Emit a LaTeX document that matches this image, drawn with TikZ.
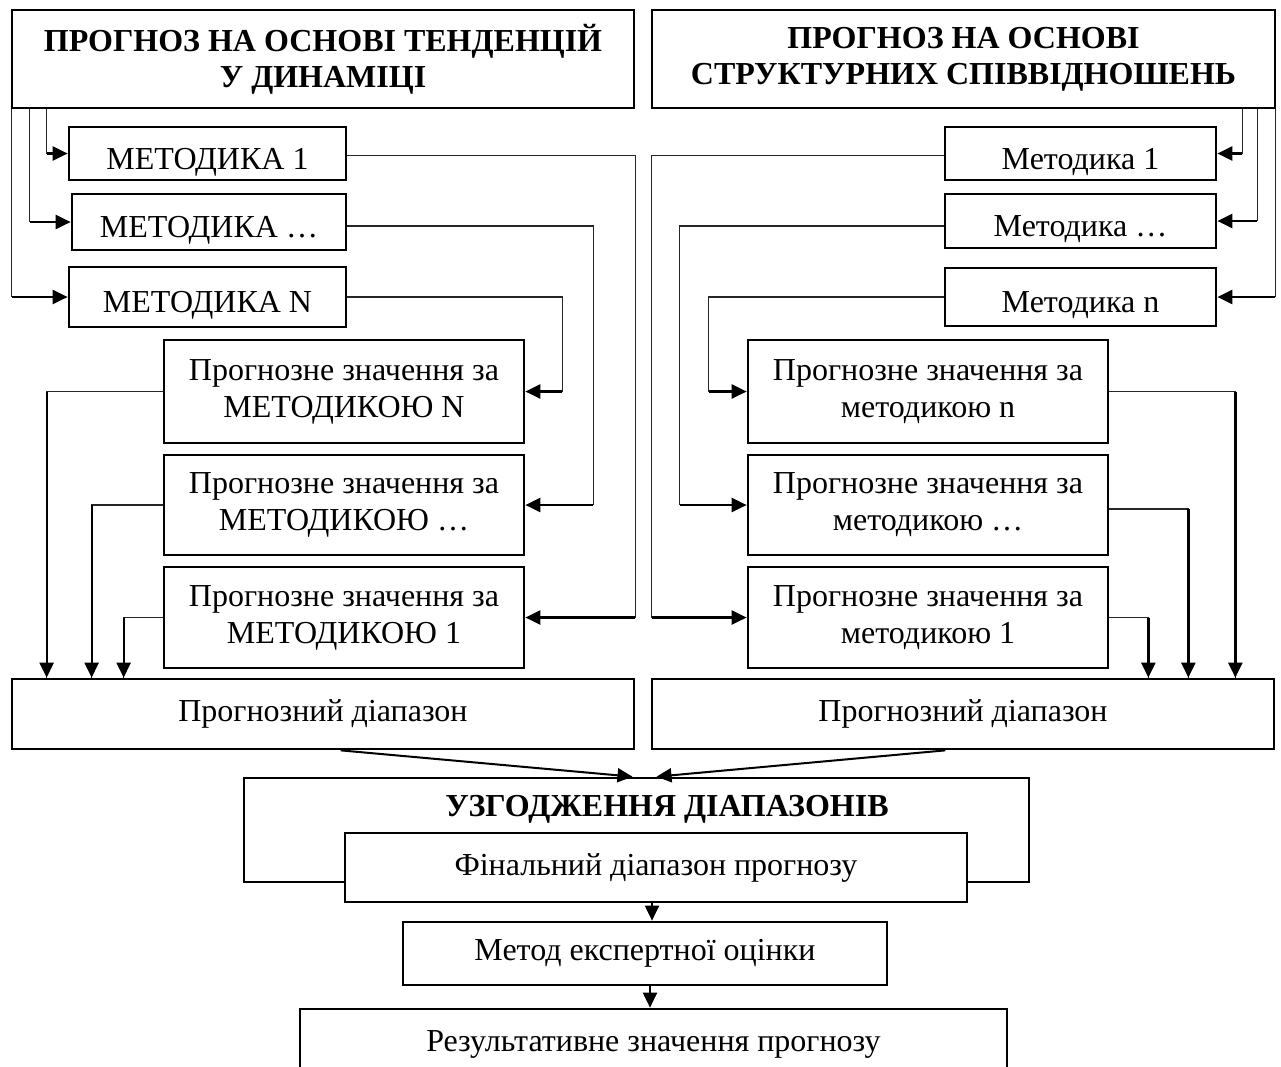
\documentclass[tikz,border=0pt]{standalone}
\usepackage{fontspec}
\setmainfont{Liberation Serif}
\usetikzlibrary{arrows.meta}
\newcommand\myfs{\fontsize{32}{37}\selectfont}
\newcommand\myfsb{\fontsize{32}{36}\selectfont\bfseries}
\begin{document}
\begin{tikzpicture}[x=1pt,y=-1pt,
  box/.style={draw, line width=2.7pt, fill=white, inner sep=0pt, align=center, font=\myfs},
  onel/.style={text height=31pt, text depth=0pt},
  conn/.style={line width=1.3pt, draw=black!85},
  arr/.style={line width=2.3pt, -{Triangle[length=15pt,width=14pt]}}]
\clip (0,0) rectangle (1281,1066);
\fill[white] (0,0) rectangle (1281,1066);

% headers
\node[box, font=\myfsb, minimum width=622pt, minimum height=98pt] (hl) at (323,59) {ПРОГНОЗ НА ОСНОВІ ТЕНДЕНЦІЙ\\У ДИНАМІЦІ};
\node[box, font=\myfsb, minimum width=623pt, minimum height=98pt] (hr) at (963.5,59) {ПРОГНОЗ НА ОСНОВІ\\СТРУКТУРНИХ СПІВВІДНОШЕНЬ};

% methods left
\node[box, onel, minimum width=277pt, minimum height=53pt] (m1) at (207.5,153.5) {МЕТОДИКА 1};
\node[box, onel, minimum width=274pt, minimum height=56pt] (m2) at (209,222) {МЕТОДИКА …};
\node[box, onel, minimum width=277pt, minimum height=60pt] (m3) at (207.5,297) {МЕТОДИКА N};
% methods right
\node[box, onel, minimum width=271pt, minimum height=53pt] (r1) at (1080.5,153.5) {Методика 1};
\node[box, onel, minimum width=271pt, minimum height=54pt] (r2) at (1080.5,221) {Методика …};
\node[box, onel, minimum width=271pt, minimum height=58pt] (r3) at (1080.5,297) {Методика n};

% forecast values left
\node[box, minimum width=360pt, minimum height=103pt] (pN) at (344,391.5) {Прогнозне значення за\\МЕТОДИКОЮ N};
\node[box, minimum width=360pt, minimum height=100pt] (p2) at (344,505) {Прогнозне значення за\\МЕТОДИКОЮ …};
\node[box, minimum width=360pt, minimum height=101pt] (p1) at (344,617.5) {Прогнозне значення за\\МЕТОДИКОЮ 1};
% forecast values right
\node[box, minimum width=360pt, minimum height=103pt] (qN) at (928,391.5) {Прогнозне значення за\\методикою n};
\node[box, minimum width=360pt, minimum height=100pt] (q2) at (928,505) {Прогнозне значення за\\методикою …};
\node[box, minimum width=360pt, minimum height=101pt] (q1) at (928,617.5) {Прогнозне значення за\\методикою 1};

% ranges
\node[box, minimum width=622pt, minimum height=70pt] (rangeL) at (323,714) {Прогнозний діапазон};
\node[box, minimum width=622pt, minimum height=70pt] (rangeR) at (963,714) {Прогнозний діапазон};

% agreement
\node[box, minimum width=785pt, minimum height=104pt] (uzg) at (636.5,830) {};
\node[font=\myfsb, inner sep=0pt] (uzgt) at (667,809) {УЗГОДЖЕННЯ ДІАПАЗОНІВ};
\node[box, minimum width=622pt, minimum height=69pt] (fin) at (656,867.5) {Фінальний діапазон прогнозу};
\node[box, minimum width=484pt, minimum height=63pt] (met) at (645,953.5) {Метод експертної оцінки};
\node[box, minimum width=707pt, minimum height=71pt] (res) at (653.5,1044.5) {Результативне значення прогнозу};

% feed lines left
\coordinate (f1) at ([xshift=36pt]hl.south west);
\coordinate (f2) at ([xshift=19pt]hl.south west);
\coordinate (f3) at ([xshift=1pt]hl.south west);
\draw[conn] (f1) -- (f1 |- m1.west);
\draw[arr] (f1 |- m1.west) -- (m1.west);
\draw[conn] (f2) -- (f2 |- m2.west);
\draw[arr] (f2 |- m2.west) -- (m2.west);
\draw[conn] (f3) -- (f3 |- m3.west);
\draw[arr] (f3 |- m3.west) -- (m3.west);

% feed lines right
\coordinate (g1) at ([xshift=-34pt]hr.south east);
\coordinate (g2) at ([xshift=-19pt]hr.south east);
\coordinate (g3) at ([xshift=-1pt]hr.south east);
\draw[conn] (g1) -- (g1 |- r1.east);
\draw[arr] (g1 |- r1.east) -- (r1.east);
\draw[conn] (g2) -- (g2 |- r2.east);
\draw[arr] (g2 |- r2.east) -- (r2.east);
\draw[conn] (g3) -- (g3 |- r3.east);
\draw[arr] (g3 |- r3.east) -- (r3.east);

% methods -> forecast values, left
\coordinate (k1) at ([xshift=110pt]p1.east);
\coordinate (k2) at ([xshift=68pt]p2.east);
\coordinate (k3) at ([xshift=37pt]pN.east);
\draw[conn] ([yshift=-2pt]m1.east) -| (k1);
\draw[arr] (k1) -- (p1.east);
\draw[conn] ([yshift=-4pt]m2.east) -| (k2);
\draw[arr] (k2) -- (p2.east);
\draw[conn] (m3.east) -| (k3);
\draw[arr] (k3) -- (pN.east);

% methods -> forecast values, right
\coordinate (j1) at ([xshift=-95pt]q1.west);
\coordinate (j2) at ([xshift=-67pt]q2.west);
\coordinate (j3) at ([xshift=-38pt]qN.west);
\draw[conn] ([yshift=-2pt]r1.west) -| (j1);
\draw[arr] (j1) -- (q1.west);
\draw[conn] ([yshift=-5pt]r2.west) -| (j2);
\draw[arr] (j2) -- (q2.west);
\draw[conn] (r3.west) -| (j3);
\draw[arr] (j3) -- (qN.west);

% forecast values -> range, left
\coordinate (b1) at ([xshift=36pt]rangeL.north west);
\coordinate (b2) at ([xshift=81pt]rangeL.north west);
\coordinate (b3) at ([xshift=113pt]rangeL.north west);
\draw[conn] (pN.west) -| (b1);
\draw[arr] (b1 |- pN.west) -- (b1);
\draw[conn] (p2.west) -| (b2);
\draw[arr] (b2 |- p2.west) -- (b2);
\draw[conn] (p1.west) -| (b3);
\draw[arr] (b3 |- p1.west) -- (b3);

% forecast values -> range, right
\coordinate (e1) at ([xshift=-40pt]rangeR.north east);
\coordinate (e2) at ([xshift=-87pt]rangeR.north east);
\coordinate (e3) at ([xshift=-127pt]rangeR.north east);
\draw[conn] (qN.east) -| (e1);
\draw[arr] (e1 |- qN.east) -- (e1);
\draw[conn] ([yshift=-4pt]q2.east) -| (e2);
\draw[arr] ([yshift=-4pt]e2 |- q2.east) -- (e2);
\draw[conn] (q1.east) -| (e3);
\draw[arr] (e3 |- q1.east) -- (e3);

% ranges -> agreement
\draw[arr, line width=2pt] ([xshift=330pt]rangeL.south west) -- ([xshift=-4pt]uzg.north);
\draw[arr, line width=2pt] ([xshift=-330pt]rangeR.south east) -- ([xshift=20pt]uzg.north);

% final chain
\draw[arr, line width=2pt] ([xshift=-4pt]fin.south) -- ([xshift=-4pt]fin.south |- met.north);
\draw[arr, line width=2pt] ([xshift=5pt]met.south) -- ([xshift=5pt]met.south |- res.north);
\end{tikzpicture}
\end{document}
